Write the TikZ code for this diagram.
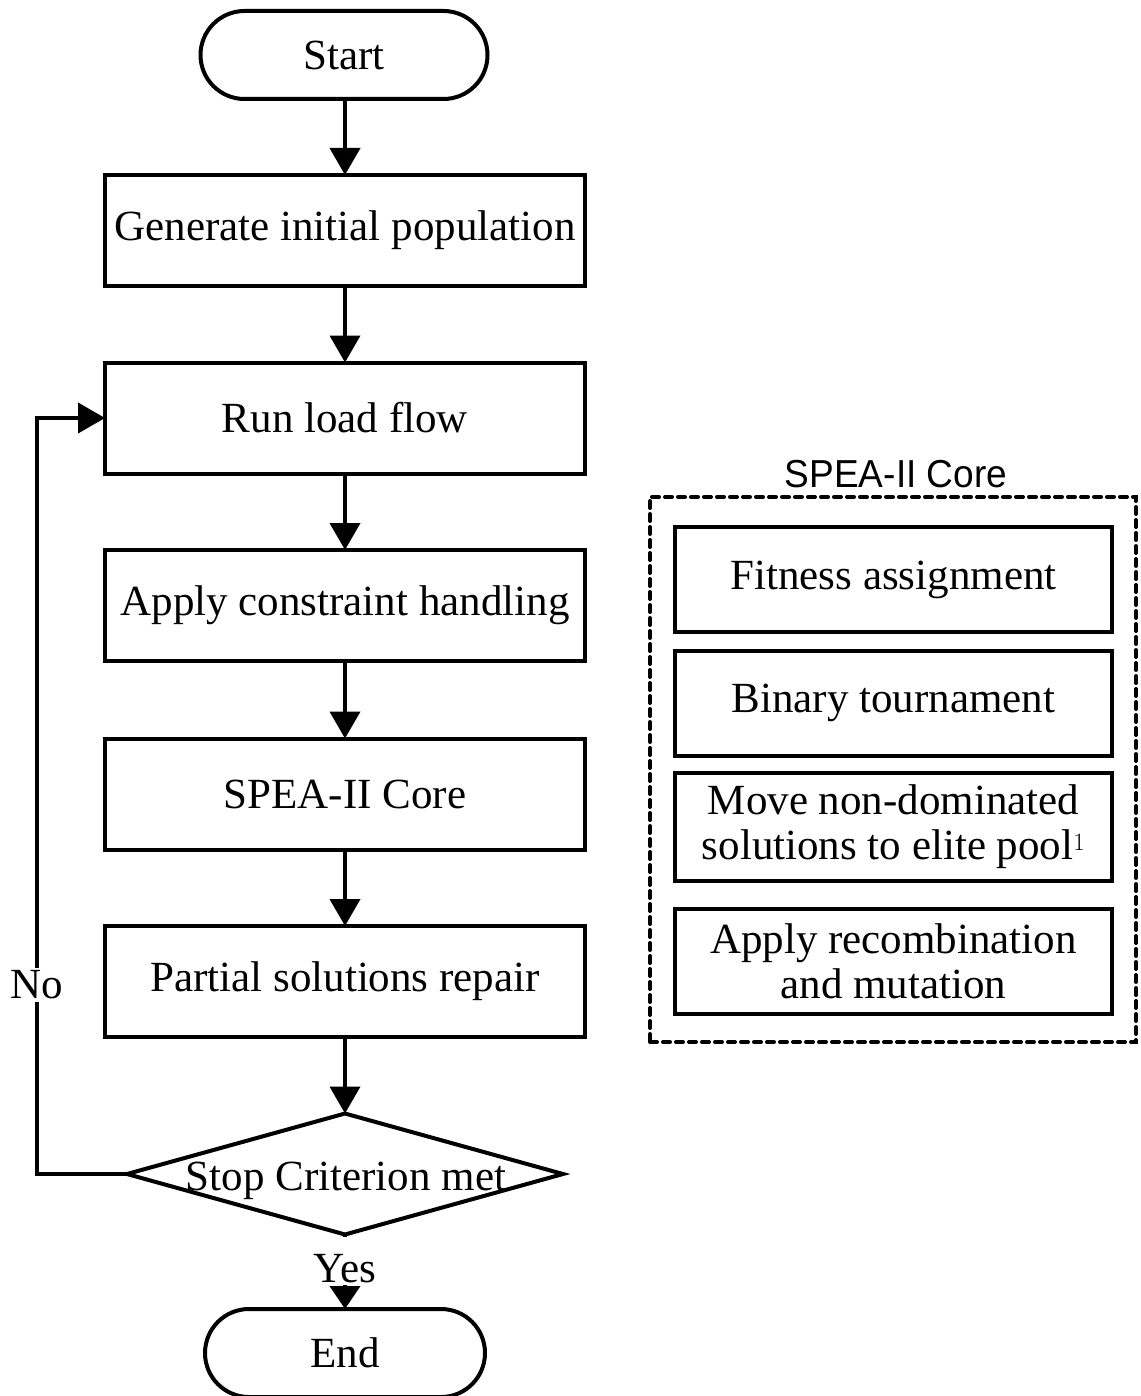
\documentclass[tikz,border=0pt]{standalone}
\usepackage{fontspec}
\setmainfont{Liberation Serif}
\newfontfamily\titlefont{Liberation Sans}
\usetikzlibrary{shapes.geometric,arrows.meta}
\begin{document}
\begin{tikzpicture}[x=1pt,y=-1pt,
  every node/.style={font=\fontsize{43}{45}\selectfont, inner sep=0pt, outer sep=0pt, align=center},
  proc/.style={draw, line width=4pt, minimum width=480pt, minimum height=111pt},
  term/.style={draw, line width=4pt, rounded corners=44pt, minimum height=88pt},
  decision/.style={draw, diamond, line width=4pt, minimum width=436pt, minimum height=121pt},
  corebox/.style={draw, line width=4pt, minimum width=437pt, minimum height=105pt},
  panel/.style={draw, line width=4pt, dash pattern=on 7pt off 6pt, line cap=round, minimum width=486pt, minimum height=545pt},
  flow/.style={line width=4pt, -{Triangle[length=27pt,width=30pt]}},
  shortflow/.style={line width=4pt, -{Triangle[length=23pt,width=30pt]}},
  tag/.style={fill=white, inner sep=3pt}]
\useasboundingbox (0,0) rectangle (1140,1396);

% main flow
\node[term, minimum width=287pt] (start) at (344,55) {Start};
\node[proc] (gen) at (345,230.5) {Generate initial population};
\node[proc] (run) at (345,418) {Run load flow};
\node[proc] (apply) at (345,605.5) {Apply constraint handling};
\node[proc] (core) at (345,794) {SPEA-II Core};
\node[proc] (repair) at (345,981.5) {Partial solutions repair};
\node[decision] (stop) at (345,1174) {};
\node (stoptext) at (346,1181) {Stop Criterion met};
\node[term, minimum width=280pt] (end) at (345,1353) {End};

\draw[flow] (start.south -| gen.north) -- (gen.north);
\draw[flow] (gen) -- (run);
\draw[flow] (run) -- (apply);
\draw[flow] (apply) -- (core);
\draw[flow] (core) -- (repair);
\draw[flow] (repair.south) -- (stop.north);
\draw[shortflow] (stop.south) -- (end.north);
\node[fill=white, inner sep=2pt, text height=44pt, anchor=south] (yes) at (345,1285) {Yes};

% loop back when the criterion is not met
\coordinate (loopcorner) at (37,1174);
\draw[flow] (stop.west) -- (loopcorner) |- (run.west);
\node[tag] (no) at (37,985) {No};

% SPEA-II core detail
\node[panel] (corepanel) at (893,769.5) {};
\node[font=\titlefont\fontsize{39}{42}\selectfont, xscale=0.95] (coretitle) at (896,474) {SPEA-II Core};
\node[corebox] (fit) at (893.5,579.5) {Fitness assignment};
\node[corebox] (binary) at (893.5,703) {Binary tournament};
\node[corebox, minimum height=108pt] (move) at (893.5,827) {Move non-dominated\\solutions to elite pool$^{1}$};
\node[corebox] (recomb) at (893.5,961.5) {Apply recombination\\and mutation};
\end{tikzpicture}
\end{document}
